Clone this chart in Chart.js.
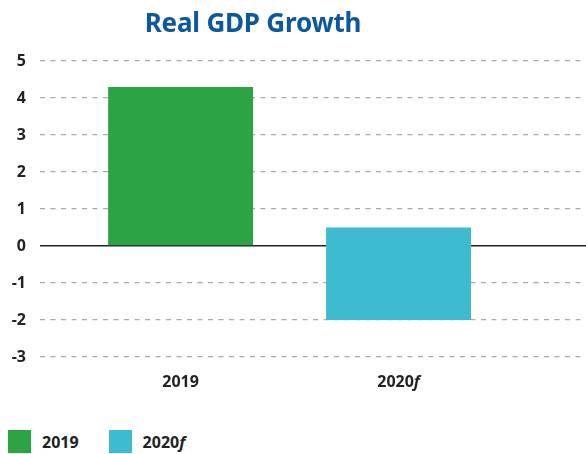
<!DOCTYPE html>
<html>
<head>
<meta charset="utf-8">
<script src="https://cdn.jsdelivr.net/npm/chart.js@4"></script>
<style>
  body { margin: 0; background: #fff; }
  #wrap { position: relative; width: 586px; height: 454px; font-family: "Noto Sans", sans-serif; }
  #title { position: absolute; left: 0; top: 4px; width: 506px; text-align: center;
           font-size: 26px; font-weight: bold; color: #0b57a0; letter-spacing: -0.2px; }
  #chart { position: absolute; left: 0; top: 0; }
  #legend { position: absolute; left: 8px; top: 430px; display: flex; align-items: center;
            font-size: 16px; font-weight: bold; color: #222; }
  #legend span.box { display: inline-block; width: 23px; height: 23px; margin-right: 11px; }
  #legend span.item { display: flex; align-items: center; margin-right: 30px; }
</style>
</head>
<body>
<div id="wrap">
  <canvas id="chart" width="586" height="400"></canvas>
  <div id="title">Real GDP Growth</div>
  <div id="legend"></div>
</div>
<script>
// data
var categories = ['2019', '2020f'];
var lowValues = [0, -2];
var highValues = [4.3, 0.5];
var yTicks = [-3, -2, -1, 0, 1, 2, 3, 4, 5];

var barColors = ['#2ca444', '#3ebad1'];
var fontFamily = '"Noto Sans", sans-serif';

// legend (html, so the "f" can be italic)
var legend = document.getElementById('legend');
categories.forEach(function (c, i) {
  var item = document.createElement('span');
  item.className = 'item';
  var txt = c.replace(/f$/, '<i>f</i>');
  item.innerHTML = '<span class="box" style="background:' + barColors[i] + '"></span>' + txt;
  legend.appendChild(item);
});

// x labels drawn by hand so that the forecast "f" is italic
var xLabels = {
  id: 'xLabels',
  afterDraw: function (chart) {
    var xs = chart.scales.x;
    var c = chart.ctx;
    var y = chart.chartArea.bottom + 25;
    c.save();
    c.fillStyle = '#222';
    c.textBaseline = 'middle';
    c.textAlign = 'left';
    categories.forEach(function (lab, i) {
      var base = lab.replace(/f$/, '');
      var suf = lab.length > base.length ? 'f' : '';
      c.font = 'bold 16px ' + fontFamily;
      var w1 = c.measureText(base).width;
      c.font = 'italic bold 16px ' + fontFamily;
      var w2 = suf ? c.measureText(suf).width : 0;
      var px = xs.getPixelForValue(i) - (w1 + w2) / 2;
      c.font = 'bold 16px ' + fontFamily;
      c.fillText(base, px, y);
      if (suf) {
        c.font = 'italic bold 16px ' + fontFamily;
        c.fillText(suf, px + w1, y);
      }
    });
    c.restore();
  }
};

var ctx = document.getElementById('chart').getContext('2d');
var gdpChart = new Chart(ctx, {
  type: 'bar',
  data: {
    datasets: [{
      data: categories.map(function (c, i) { return { x: i, y: [lowValues[i], highValues[i]] }; }),
      backgroundColor: barColors,
      borderWidth: 0,
      barPercentage: 0.665,
      categoryPercentage: 1
    }]
  },
  options: {
    responsive: false,
    animation: false,
    layout: { padding: { top: 61, bottom: 43, left: 8, right: 0 } },
    plugins: { legend: { display: false }, tooltip: { enabled: false } },
    scales: {
      x: {
        type: 'linear',
        display: false,
        min: -0.645,
        max: 1.86,
        offset: false,
        afterBuildTicks: function (s) { s.ticks = categories.map(function (c, i) { return { value: i }; }); }
      },
      y: {
        min: -3,
        max: 5,
        afterBuildTicks: function (s) { s.ticks = yTicks.map(function (v) { return { value: v }; }); },
        afterFit: function (s) { s.width = 32; },
        ticks: { padding: 14, color: '#222', font: { family: fontFamily, size: 16, weight: 'bold' } },
        grid: {
          drawTicks: false,
          color: function (c) { return c.tick && c.tick.value === 0 ? '#222' : '#aaaaaa'; },
          lineWidth: function (c) { return c.tick && c.tick.value === 0 ? 1.5 : 1.2; }
        },
        border: {
          display: false,
          dash: function (c) { return c.tick && c.tick.value === 0 ? [] : [5, 5.5]; }
        }
      }
    }
  },
  plugins: [xLabels]
});
</script>
</body>
</html>
